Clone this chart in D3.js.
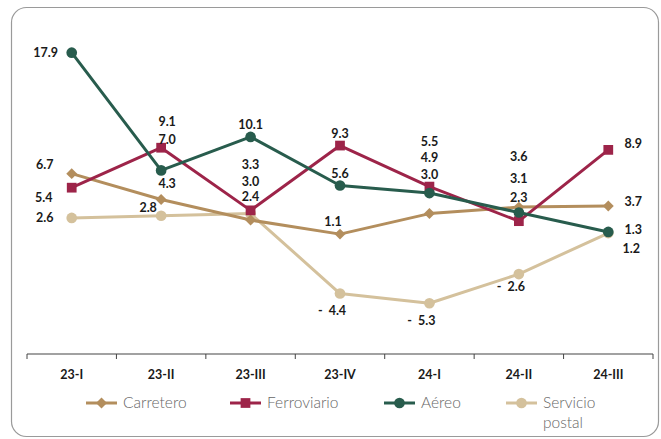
<!DOCTYPE html>
<html>
<head>
<meta charset="utf-8">
<script src="https://cdn.jsdelivr.net/npm/d3@7"></script>
<style>
  body { margin: 0; background: #fff; }
  svg { display: block; font-family: Lato, "DejaVu Sans", sans-serif; }
</style>
</head>
<body>
<svg id="chart" width="661" height="439"></svg>
<script>
// quarters
var quarters = ["23-I", "23-II", "23-III", "23-IV", "24-I", "24-II", "24-III"];

// series values (annual % change)
var carretero   = [6.7, 4.3, 2.4, 1.1, 3.0, 3.6, 3.7];
var ferroviario = [5.4, 9.1, 3.3, 9.3, 5.5, 2.3, 8.9];
var aereo       = [17.9, 7.0, 10.1, 5.6, 4.9, 3.1, 1.3];
var postal      = [2.6, 2.8, 3.0, -4.4, -5.3, -2.6, 1.2];

var yDomain = [-10, 20];

// label offsets from each point, hand placed like the original
var labelOffsets = {
	carretero:   [[-27, -9], [6, -16], [0, -23], [-7, -12], [0, -39], [0, -50], [25, -4]],
	ferroviario: [[-28, 10], [6, -26], [0, -46], [0, -12], [0, -45], [0, -24], [25, -6]],
	aereo:       [[-26, 0], [6, -31], [0, -12], [0, -12], [0, -35], [0, -34], [25, -2]],
	postal:      [[-27, 0], [-13, -8], [0, -32], [-8, 17], [-8, 17], [-8, 13], [23, 16]]
};

var series = [
	{key: "carretero", name: "Carretero", values: carretero, color: "#B38E5D", shape: "diamond"},
	{key: "ferroviario", name: "Ferroviario", values: ferroviario, color: "#9D2449", shape: "square"},
	{key: "aereo", name: "Aéreo", values: aereo, color: "#285C4D", shape: "circle"},
	{key: "postal", name: "Servicio postal", values: postal, color: "#D4C19C", shape: "circle"}
];

var svg = d3.select("#chart");

// rounded frame
svg.append("rect")
	.attr("x", 11.5).attr("y", 7.5)
	.attr("width", 647).attr("height", 429)
	.attr("rx", 15)
	.attr("fill", "none")
	.attr("stroke", "#9a9a9a")
	.attr("stroke-width", 1.2);

var x = d3.scaleBand().domain(quarters).range([27, 653]).padding(0);
var y = d3.scaleLinear().domain(yDomain).range([354, 30]);

function cx(i) { return x(quarters[i]) + x.bandwidth() / 2; }

// category axis along the bottom
var axis = svg.append("g").attr("transform", "translate(0,354)");
axis.append("line")
	.attr("x1", 27).attr("x2", 653)
	.attr("stroke", "#444").attr("stroke-width", 1.2);
var bounds = quarters.map(function(q) { return x(q); }).concat([x.range()[1]]);
axis.selectAll(".tk").data(bounds).enter().append("line")
	.attr("x1", function(d) { return d; }).attr("x2", function(d) { return d; })
	.attr("y1", 0).attr("y2", 5)
	.attr("stroke", "#444");
axis.selectAll(".lbl").data(quarters).enter().append("text")
	.attr("x", function(d) { return x(d) + x.bandwidth() / 2; })
	.attr("y", 25)
	.attr("text-anchor", "middle")
	.attr("font-size", 12.5)
	.attr("font-weight", "bold")
	.attr("fill", "#1a1a1a")
	.text(function(d) { return d; });

var line = d3.line()
	.x(function(d, i) { return cx(i); })
	.y(function(d) { return y(d); });

// marker path + extra rotation
function marker(s) {
	if (s.shape === "square") return {d: d3.symbol().type(d3.symbolSquare).size(95)(), rot: 0};
	if (s.shape === "diamond") return {d: d3.symbol().type(d3.symbolSquare).size(60)(), rot: 45};
	return {d: d3.symbol().type(d3.symbolCircle).size(90)(), rot: 0};
}

// draw postal first so darker lines sit on top, like the original
var order = [series[3], series[0], series[1], series[2]];
order.forEach(function(s) {
	var g = svg.append("g");
	var m = marker(s);
	g.append("path")
		.datum(s.values)
		.attr("d", line)
		.attr("fill", "none")
		.attr("stroke", s.color)
		.attr("stroke-width", 3)
		.attr("stroke-linejoin", "round");
	g.selectAll("path.m").data(s.values).enter().append("path")
		.attr("class", "m")
		.attr("transform", function(d, i) { return "translate(" + cx(i) + "," + y(d) + ") rotate(" + m.rot + ")"; })
		.attr("d", m.d)
		.attr("fill", s.color);
});

// data labels
function fmt(v) {
	var t = d3.format(".1f")(Math.abs(v));
	return v < 0 ? "-  " + t : t;
}
series.forEach(function(s) {
	var offs = labelOffsets[s.key];
	svg.append("g").selectAll("text").data(s.values).enter().append("text")
		.attr("x", function(d, i) { return cx(i) + offs[i][0]; })
		.attr("y", function(d, i) { return y(d) + offs[i][1]; })
		.attr("dy", "0.35em")
		.attr("text-anchor", "middle")
		.attr("font-size", 12.5)
		.attr("font-weight", "bold")
		.attr("fill", "#1a1a1a")
		.style("white-space", "pre")
		.text(fmt);
});

// legend
var legendX = [86, 230, 384, 506];
var lg = svg.append("g").attr("transform", "translate(0,403)");
series.forEach(function(s, i) {
	var g = lg.append("g").attr("transform", "translate(" + legendX[i] + ",0)");
	var m = marker(s);
	g.append("line")
		.attr("x1", 0).attr("x2", 31)
		.attr("stroke", s.color).attr("stroke-width", 3);
	g.append("path")
		.attr("transform", "translate(15.5,0) rotate(" + m.rot + ")")
		.attr("d", m.d)
		.attr("fill", s.color);
	var words = s.name === "Servicio postal" ? ["Servicio", "postal"] : [s.name];
	var t = g.append("text")
		.attr("x", 37).attr("y", 0)
		.attr("font-size", 15.5)
		.attr("font-weight", 300)
		.attr("fill", "#666");
	words.forEach(function(w, j) {
		t.append("tspan")
			.attr("x", 37)
			.attr("dy", j === 0 ? "0.35em" : "1.25em")
			.text(w);
	});
});
</script>
</body>
</html>
